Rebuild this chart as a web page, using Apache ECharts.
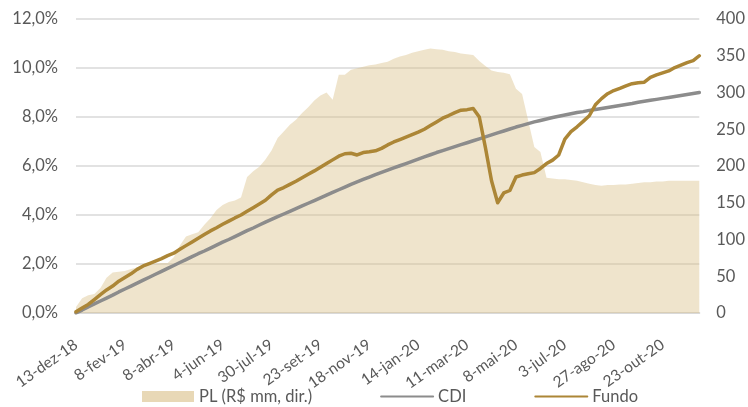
<!DOCTYPE html>
<html>
<head>
<meta charset="utf-8">
<style>
html, body { margin: 0; padding: 0; background: #fff; }
#chart { width: 748px; height: 407px; }
</style>
<script src="https://cdn.jsdelivr.net/npm/echarts@6/dist/echarts.min.js"></script>
</head>
<body>
<div id="chart"></div>
<script>
// weekly points, a tick label every 8th point
const tickLabels = ['13-dez-18', '8-fev-19', '8-abr-19', '4-jun-19', '30-jul-19', '23-set-19', '18-nov-19',
    '14-jan-20', '11-mar-20', '8-mai-20', '3-jul-20', '27-ago-20', '23-out-20'];
const pointCount = 103;

// PL (R$ mm), right axis
const plValues = [
    8, 20, 24, 26, 34, 48, 55, 56, 57, 60,
    62, 64, 65, 67, 68, 68, 76, 92, 104, 107,
    110, 120, 129, 140, 147, 151, 153, 157, 185, 193,
    199, 209, 221, 238, 247, 256, 263, 272, 280, 289,
    296, 300, 290, 324, 324, 331, 333, 335, 337, 338,
    340, 342, 346, 349, 351, 354, 356, 358, 360, 359,
    358, 356, 355, 353, 352, 351, 343, 336, 330, 328,
    327, 325, 305, 298, 262, 226, 219, 184, 183, 182,
    182, 181, 180, 178, 176, 174, 173, 174, 174, 175,
    175, 176, 177, 178, 178, 179, 179, 180, 180, 180,
    180, 180, 180
];

// CDI (%), left axis
const cdiValues = [
    0.00, 0.12, 0.25, 0.37, 0.49, 0.61, 0.73, 0.86, 0.98, 1.10,
    1.22, 1.34, 1.46, 1.58, 1.70, 1.82, 1.94, 2.06, 2.18, 2.30,
    2.42, 2.53, 2.65, 2.77, 2.89, 3.00, 3.12, 3.24, 3.36, 3.47,
    3.59, 3.71, 3.82, 3.93, 4.04, 4.15, 4.26, 4.37, 4.48, 4.59,
    4.70, 4.81, 4.92, 5.03, 5.14, 5.25, 5.35, 5.45, 5.55, 5.65,
    5.74, 5.83, 5.92, 6.01, 6.10, 6.19, 6.28, 6.37, 6.46, 6.55,
    6.63, 6.71, 6.79, 6.87, 6.95, 7.03, 7.11, 7.19, 7.27, 7.35,
    7.43, 7.51, 7.59, 7.66, 7.73, 7.80, 7.86, 7.92, 7.98, 8.03,
    8.08, 8.13, 8.18, 8.22, 8.27, 8.31, 8.35, 8.39, 8.43, 8.47,
    8.51, 8.55, 8.60, 8.64, 8.68, 8.72, 8.76, 8.80, 8.84, 8.88,
    8.92, 8.96, 9.00
];

// Fundo (%), left axis
const fundoValues = [
    0.05, 0.20, 0.35, 0.55, 0.75, 0.94, 1.10, 1.30, 1.45, 1.60,
    1.78, 1.92, 2.02, 2.12, 2.22, 2.34, 2.44, 2.60, 2.75, 2.90,
    3.05, 3.20, 3.35, 3.48, 3.62, 3.75, 3.88, 4.00, 4.15, 4.30,
    4.45, 4.60, 4.82, 5.02, 5.12, 5.25, 5.38, 5.52, 5.66, 5.80,
    5.95, 6.10, 6.25, 6.40, 6.50, 6.52, 6.45, 6.55, 6.58, 6.62,
    6.72, 6.86, 6.98, 7.08, 7.18, 7.28, 7.38, 7.50, 7.65, 7.80,
    7.95, 8.06, 8.18, 8.28, 8.30, 8.35, 8.00, 6.75, 5.40, 4.50,
    4.90, 5.00, 5.55, 5.63, 5.68, 5.73, 5.90, 6.10, 6.24, 6.45,
    7.10, 7.40, 7.60, 7.82, 8.05, 8.50, 8.75, 8.95, 9.08, 9.17,
    9.27, 9.36, 9.40, 9.42, 9.62, 9.72, 9.80, 9.88, 10.02, 10.12,
    10.22, 10.30, 10.50
];

const categories = [];
for (let i = 0; i < pointCount; i++) {
    categories.push(i % 8 === 0 ? tickLabels[i / 8] : 'p' + i);
}

const FONT = 'Lato';
const TEXT = '#595959';

const chart = echarts.init(document.getElementById('chart'), null, { renderer: 'canvas' });
chart.setOption({
    animation: false,
    textStyle: { fontFamily: FONT, color: TEXT },
    grid: { left: 76, right: 47, top: 19, bottom: 94, containLabel: false },
    legend: {
        left: 137,
        top: 383,
        itemWidth: 52,
        itemHeight: 11,
        itemGap: 68,
        textStyle: { fontFamily: FONT, fontSize: 16.5, color: TEXT },
        data: [
            { name: 'PL (R$ mm, dir.)', icon: 'rect' },
            // hide the marker dot, keep the line
            { name: 'CDI', itemStyle: { opacity: 0 } },
            { name: 'Fundo', itemStyle: { opacity: 0 } }
        ]
    },
    xAxis: {
        type: 'category',
        data: categories,
        boundaryGap: false,
        axisLine: { lineStyle: { color: '#D9D9D9', width: 2 } },
        axisTick: { show: false },
        axisLabel: {
            interval: 7,
            rotate: 35,
            margin: 30,
            fontFamily: FONT,
            fontSize: 15.5,
            color: TEXT
        },
        splitLine: { show: false }
    },
    yAxis: [
        {
            type: 'value',
            min: 0,
            max: 12,
            interval: 2,
            axisLine: { show: false },
            axisTick: { show: false },
            axisLabel: {
                margin: 18,
                fontFamily: FONT,
                fontSize: 16.5,
                color: TEXT,
                formatter: v => v.toFixed(1).replace('.', ',') + '%'
            },
            splitLine: { lineStyle: { color: '#D9D9D9', width: 1.5 } }
        },
        {
            type: 'value',
            min: 0,
            max: 400,
            interval: 50,
            position: 'right',
            axisLine: { show: false },
            axisTick: { show: false },
            axisLabel: { margin: 17, fontFamily: FONT, fontSize: 16.5, color: TEXT },
            splitLine: { show: false }
        }
    ],
    series: [
        {
            name: 'PL (R$ mm, dir.)',
            type: 'line',
            yAxisIndex: 1,
            data: plValues,
            showSymbol: false,
            symbol: 'none',
            lineStyle: { width: 0 },
            itemStyle: { color: '#E8D8B6' },
            areaStyle: { color: 'rgba(217,190,133,0.6)' },
            z: 1
        },
        {
            name: 'CDI',
            type: 'line',
            data: cdiValues,
            showSymbol: false,
            symbol: 'none',
            itemStyle: { color: '#8C8C8C' },
            lineStyle: { color: '#8C8C8C', width: 3.5, cap: 'round' },
            z: 3
        },
        {
            name: 'Fundo',
            type: 'line',
            data: fundoValues,
            showSymbol: false,
            symbol: 'none',
            itemStyle: { color: '#AC8636' },
            lineStyle: { color: '#AC8636', width: 3.5, cap: 'round', join: 'round' },
            z: 4
        }
    ]
});
</script>
</body>
</html>
